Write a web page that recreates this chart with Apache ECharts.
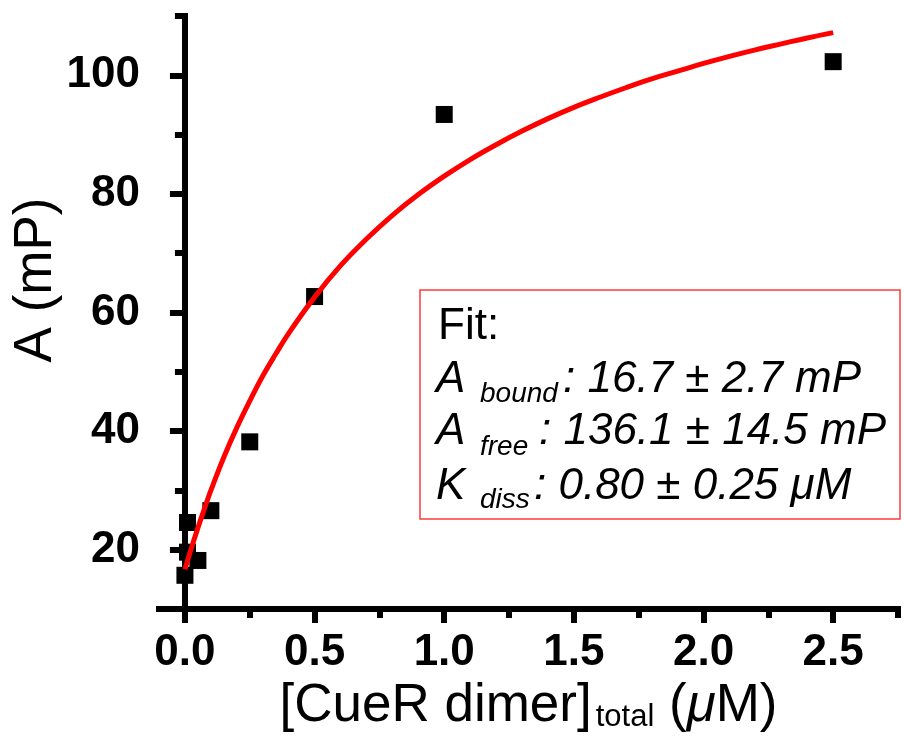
<!DOCTYPE html>
<html>
<head>
<meta charset="utf-8">
<script src="https://cdn.jsdelivr.net/npm/echarts@6/dist/echarts.min.js"></script>
<style>
html,body{margin:0;padding:0;background:#fff;}
#chart{width:904px;height:738px;}
</style>
</head>
<body>
<div id="chart"></div>
<script>
// ---- data ----
const concentration = [0, 0.01, 0.01, 0.05, 0.1, 0.25, 0.5, 1.0, 2.5];
const anisotropy = [15.7, 19.6, 24.6, 18.2, 26.6, 38.2, 62.7, 93.4, 102.3];

const fitX = [0, 0.025, 0.05, 0.075, 0.1, 0.15, 0.2, 0.25, 0.3, 0.35, 0.4, 0.5, 0.6, 0.7, 0.8, 0.9, 1.0, 1.1, 1.2, 1.3, 1.4, 1.5, 1.6, 1.7, 1.8, 1.9, 2.0, 2.1, 2.2, 2.3, 2.4, 2.5];
const fitY = [16.7, 20.3, 23.7, 26.9, 30.0, 35.6, 40.6, 45.1, 49.3, 53.0, 56.5, 62.6, 67.9, 72.4, 76.4, 79.9, 83.0, 85.8, 88.3, 90.6, 92.7, 94.6, 96.3, 97.9, 99.4, 100.7, 102.0, 103.2, 104.3, 105.3, 106.3, 107.2];

const xMajorTicks = [0, 0.5, 1.0, 1.5, 2.0, 2.5];
const xAllTicks = [0, 0.25, 0.5, 0.75, 1.0, 1.25, 1.5, 1.75, 2.0, 2.25, 2.5, 2.75];
const yMajorTicks = [20, 40, 60, 80, 100];
const yAllTicks = [10, 20, 30, 40, 50, 60, 70, 80, 90, 100, 110];

const fitLines = [
  { name: 'A', sub: 'bound', rest: [': 16.7 ', '±', ' 2.7 mP'] },
  { name: 'A', sub: 'free', rest: [': 136.1 ', '±', ' 14.5 mP'] },
  { name: 'K', sub: 'diss', rest: [': 0.80 ', '±', ' 0.25 μM'] }
];

// ---- chart ----
const FF = '"Liberation Sans", Arial, sans-serif';
const chart = echarts.init(document.getElementById('chart'), null, { renderer: 'canvas' });

const xMin = -0.1, xMax = 2.75, yMin = 10, yMax = 110;

function xAxisBase(extra) {
  return Object.assign({
    type: 'value', min: xMin, max: xMax, position: 'bottom',
    splitLine: { show: false }
  }, extra);
}
function yAxisBase(extra) {
  return Object.assign({
    type: 'value', min: yMin, max: yMax, position: 'left',
    splitLine: { show: false }
  }, extra);
}

const rowBaselines = [395, 447, 502];
const subBaselines = [404, 457, 510];
const restX = [563, 539, 534];
const F = 44, FS = 28;

const graphics = [
  {
    type: 'rect', shape: { x: 420, y: 290, width: 480, height: 229 },
    style: { fill: '#fff', stroke: '#ff3b3b', lineWidth: 1.5 }, z: 10
  },
  {
    type: 'text', x: 438, y: 342 - 0.3465 * F, z: 11,
    style: { text: 'Fit:', font: F + 'px ' + FF, fill: '#000', verticalAlign: 'middle' }
  },
  {
    type: 'text', x: 36, y: 280, rotation: Math.PI / 2, z: 11,
    style: { text: 'A (mP)', font: '53px ' + FF, fill: '#000', align: 'center', verticalAlign: 'middle' }
  }
];
fitLines.forEach((ln, i) => {
  graphics.push({
    type: 'text', x: 436, y: rowBaselines[i] - 0.3465 * F, z: 11,
    style: { text: ln.name, font: 'italic ' + F + 'px ' + FF, fill: '#000', verticalAlign: 'middle' }
  });
  graphics.push({
    type: 'text', x: 480, y: subBaselines[i] - 0.3465 * FS, z: 11,
    style: { text: ln.sub, font: 'italic ' + FS + 'px ' + FF, fill: '#000', verticalAlign: 'middle' }
  });
  graphics.push({
    type: 'text', x: restX[i], y: rowBaselines[i] - 0.3465 * F, z: 11,
    style: {
      text: '{i|' + ln.rest[0] + '}{n|' + ln.rest[1] + '}{i|' + ln.rest[2] + '}',
      verticalAlign: 'middle',
      rich: {
        i: { font: 'italic ' + F + 'px ' + FF, fill: '#000' },
        n: { font: F + 'px ' + FF, fill: '#000' }
      }
    }
  });
});

const option = {
  backgroundColor: '#fff',
  animation: false,
  grid: { left: 159, right: 6, top: 16, bottom: 127, containLabel: false },
  xAxis: [
    xAxisBase({
      axisLine: { show: true, lineStyle: { color: '#000', width: 6, cap: 'square' } },
      axisTick: { show: true, inside: false, length: 9, customValues: xAllTicks, lineStyle: { color: '#000', width: 6 } },
      axisLabel: {
        show: true, customValues: xMajorTicks, margin: 22,
        formatter: v => Number(v).toFixed(1),
        fontFamily: FF, fontSize: 44, fontWeight: 'bold', color: '#000'
      },
      name: '[CueR dimer]{sub|total} ({mu|μ}M)',
      nameLocation: 'middle', nameGap: 66,
      nameTextStyle: {
        fontFamily: FF, fontSize: 53, color: '#000',
        rich: {
          sub: { fontFamily: FF, fontSize: 31, color: '#000', verticalAlign: 'bottom', lineHeight: 26, padding: [0, 0, 0, 4] },
          mu: { fontFamily: FF, fontSize: 53, fontStyle: 'italic', color: '#000' }
        }
      }
    }),
    xAxisBase({
      axisLine: { show: false },
      axisTick: { show: true, inside: false, length: 14, customValues: xMajorTicks, lineStyle: { color: '#000', width: 6 } },
      axisLabel: { show: false }
    })
  ],
  yAxis: [
    yAxisBase({
      axisLine: { show: true, lineStyle: { color: '#000', width: 6, cap: 'square' } },
      axisTick: { show: true, inside: false, length: 10, customValues: yAllTicks, lineStyle: { color: '#000', width: 6 } },
      axisLabel: {
        show: true, customValues: yMajorTicks, margin: 19,
        fontFamily: FF, fontSize: 44, fontWeight: 'bold', color: '#000'
      }
    }),
    yAxisBase({
      axisLine: { show: false },
      axisTick: { show: true, inside: false, length: 15, customValues: yMajorTicks, lineStyle: { color: '#000', width: 6 } },
      axisLabel: { show: false }
    })
  ],
  series: [
    {
      type: 'scatter', xAxisIndex: 0, yAxisIndex: 0,
      symbol: 'rect', symbolSize: 17,
      itemStyle: { color: '#000', opacity: 1 },
      data: concentration.map((x, i) => [x, anisotropy[i]]),
      z: 2
    },
    {
      type: 'line', xAxisIndex: 0, yAxisIndex: 0,
      smooth: 0.4, showSymbol: false,
      lineStyle: { color: '#ff0000', width: 5 },
      data: fitX.map((x, i) => [x, fitY[i]]),
      z: 3
    }
  ],
  graphic: graphics
};
chart.setOption(option);
</script>
</body>
</html>
